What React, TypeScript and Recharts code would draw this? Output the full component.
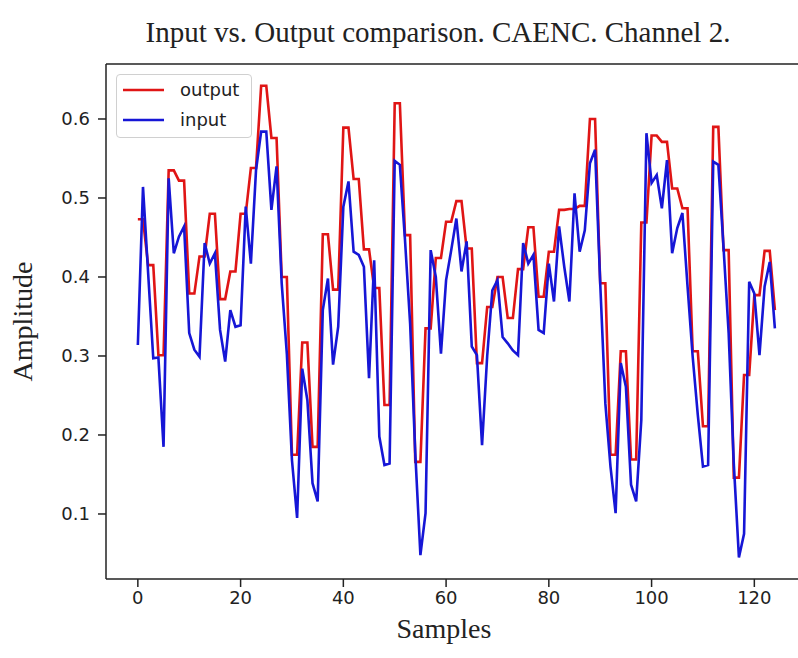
import React from "react";
import { LineChart, Line, XAxis, YAxis, Legend, ReferenceLine } from "recharts";

// sample-by-sample values (125 samples)
const OUTPUT = [
  0.473, 0.473, 0.415, 0.415, 0.301, 0.301, 0.535, 0.535, 0.522, 0.522,
  0.379, 0.379, 0.426, 0.426, 0.48, 0.48, 0.372, 0.372, 0.407, 0.407,
  0.48, 0.48, 0.538, 0.538, 0.642, 0.642, 0.576, 0.576, 0.4, 0.4,
  0.175, 0.175, 0.317, 0.317, 0.185, 0.185, 0.454, 0.454, 0.384, 0.384,
  0.589, 0.589, 0.524, 0.524, 0.435, 0.435, 0.386, 0.386, 0.238, 0.238,
  0.62, 0.62, 0.453, 0.453, 0.166, 0.166, 0.335, 0.335, 0.424, 0.424,
  0.47, 0.47, 0.496, 0.496, 0.436, 0.436, 0.291, 0.291, 0.362, 0.362,
  0.4, 0.4, 0.348, 0.348, 0.41, 0.41, 0.463, 0.463, 0.375, 0.375,
  0.432, 0.432, 0.485, 0.485, 0.486, 0.486, 0.49, 0.49, 0.6, 0.6,
  0.392, 0.392, 0.175, 0.175, 0.306, 0.306, 0.169, 0.169, 0.469, 0.469,
  0.579, 0.579, 0.571, 0.571, 0.512, 0.512, 0.487, 0.487, 0.306, 0.306,
  0.211, 0.211, 0.59, 0.59, 0.434, 0.434, 0.146, 0.146, 0.276, 0.276,
  0.377, 0.377, 0.433, 0.433, 0.358,
];

const INPUT = [
  0.314, 0.514, 0.405, 0.297, 0.298, 0.185, 0.525, 0.43, 0.451, 0.464,
  0.329, 0.308, 0.299, 0.443, 0.417, 0.43, 0.333, 0.293, 0.358, 0.337,
  0.339, 0.489, 0.417, 0.535, 0.584, 0.584, 0.485, 0.54, 0.392, 0.303,
  0.168, 0.095, 0.284, 0.244, 0.139, 0.116, 0.358, 0.398, 0.289, 0.337,
  0.489, 0.521, 0.432, 0.428, 0.413, 0.272, 0.421, 0.198, 0.162, 0.164,
  0.547, 0.542, 0.447, 0.341, 0.177, 0.048, 0.101, 0.434, 0.4, 0.303,
  0.396, 0.434, 0.474, 0.407, 0.445, 0.312, 0.301, 0.187, 0.3, 0.383,
  0.396, 0.324, 0.316, 0.307, 0.301, 0.443, 0.417, 0.428, 0.333, 0.329,
  0.417, 0.369, 0.464, 0.413, 0.369, 0.506, 0.432, 0.459, 0.544, 0.561,
  0.392, 0.24, 0.16, 0.101, 0.291, 0.261, 0.137, 0.116, 0.219, 0.582,
  0.519, 0.529, 0.487, 0.548, 0.43, 0.462, 0.481, 0.388, 0.299, 0.225,
  0.16, 0.162, 0.546, 0.542, 0.438, 0.329, 0.164, 0.045, 0.075, 0.394,
  0.379, 0.301, 0.388, 0.419, 0.335,
];

const X_TICKS = [0, 20, 40, 60, 80, 100, 120];
const Y_TICKS = [0.1, 0.2, 0.3, 0.4, 0.5, 0.6];
const X_DOMAIN = [-6.2, 128.5];
const Y_DOMAIN = [0.0177, 0.6696];

const RED = "#e01515";
const BLUE = "#1616d6";
const INK = "#222";

const data = INPUT.map((v, i) => ({ sample: i, input: v, output: OUTPUT[i] }));

const LegendBox = () => {
  const items = [
    { name: "output", color: RED },
    { name: "input", color: BLUE },
  ];
  return (
    <div
      style={{
        width: 136,
        height: 64,
        boxSizing: "border-box",
        border: "1px solid #d0d0d0",
        borderRadius: 4,
        background: "rgba(255,255,255,0.85)",
        position: "relative",
        fontFamily: "DejaVu Sans",
        fontSize: 18,
        color: INK,
      }}
    >
      {items.map((it, idx) => (
        <div key={it.name} style={{ position: "absolute", left: 0, top: 3 + idx * 30, height: 24, display: "flex", alignItems: "center" }}>
          <svg width={60} height={24} style={{ display: "block" }}>
            <line x1={6} x2={47} y1={12} y2={12} stroke={it.color} strokeWidth={2.5} />
          </svg>
          <span style={{ marginLeft: 3, lineHeight: "24px" }}>{it.name}</span>
        </div>
      ))}
    </div>
  );
};

export default function App() {
  return (
    <div style={{ position: "absolute", left: 0, top: 0, width: 798, height: 658, overflow: "hidden", background: "#fff" }}>
      <div
        style={{
          position: "absolute",
          left: 38,
          width: 800,
          top: 18,
          textAlign: "center",
          fontFamily: "Liberation Serif",
          fontSize: 29,
          lineHeight: "29px",
          color: INK,
          whiteSpace: "nowrap",
        }}
      >
        Input vs. Output comparison. CAENC. Channel 2.
      </div>
      <LineChart width={798} height={658} data={data} margin={{ top: 64, right: 0, bottom: 0, left: 6 }}>
        <XAxis
          dataKey="sample"
          type="number"
          domain={X_DOMAIN}
          ticks={X_TICKS}
          allowDataOverflow
          height={79}
          tickSize={8}
          tickMargin={4}
          stroke={INK}
          strokeWidth={1.5}
          tick={{ fontFamily: "DejaVu Sans", fontSize: 18, fill: INK }}
          label={{
            value: "Samples",
            position: "insideBottom",
            offset: 20,
            dx: -8,
            style: { fontFamily: "Liberation Serif", fontSize: 28, fill: INK },
          }}
        />
        <YAxis
          type="number"
          domain={Y_DOMAIN}
          ticks={Y_TICKS}
          allowDataOverflow
          width={100}
          tickSize={8}
          tickMargin={8}
          stroke={INK}
          strokeWidth={1.5}
          tickFormatter={(v: number) => v.toFixed(1)}
          tick={{ fontFamily: "DejaVu Sans", fontSize: 18, fill: INK }}
          label={{
            value: "Amplitude",
            angle: -90,
            position: "insideLeft",
            offset: 16,
            style: { textAnchor: "middle", fontFamily: "Liberation Serif", fontSize: 28, fill: INK },
          }}
        />
        <ReferenceLine y={Y_DOMAIN[1]} stroke={INK} strokeWidth={1.5} />
        <Legend
          verticalAlign="middle"
          align="center"
          content={<LegendBox />}
          wrapperStyle={{ left: 116, top: 74, width: 136, height: 64 }}
        />
        <Line
          type="linear"
          dataKey="output"
          name="output"
          stroke={RED}
          strokeWidth={2.6}
          dot={false}
          isAnimationActive={false}
        />
        <Line
          type="linear"
          dataKey="input"
          name="input"
          stroke={BLUE}
          strokeWidth={2.6}
          dot={false}
          isAnimationActive={false}
        />
      </LineChart>
    </div>
  );
}
